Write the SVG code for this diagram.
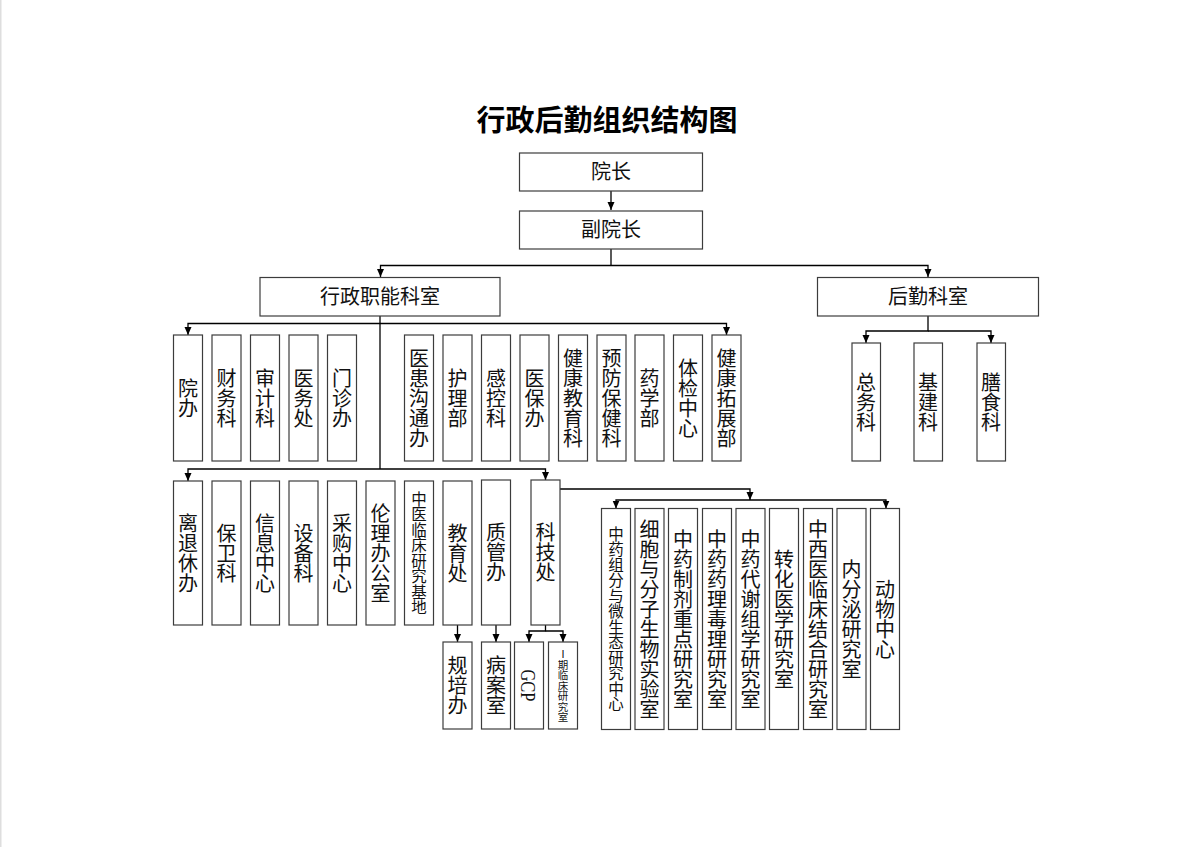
<svg xmlns="http://www.w3.org/2000/svg" width="1200" height="847" viewBox="0 0 1200 847">
<style>
.bg{fill:#fff}
.box{fill:#fff;stroke:#3c3c3c;stroke-width:1.2}
.ln{fill:none;stroke:#000;stroke-width:1.3}
.t{font-family:"Noto Sans CJK SC",sans-serif;font-size:20px;fill:#111}
.h{text-anchor:middle}
.v{writing-mode:vertical-rl;text-anchor:middle}
.s{font-size:15.5px}
.xs{font-size:10.5px}
.title{font-family:"Noto Sans CJK SC",sans-serif;font-size:29px;font-weight:bold;text-anchor:middle;fill:#000}
.lat{font-family:"Liberation Serif",serif;font-size:22px;text-anchor:middle;fill:#111}
</style>
<defs>
<marker id="arr" markerWidth="8" markerHeight="8" refX="8" refY="3.5" orient="auto" markerUnits="userSpaceOnUse"><path d="M0,0 L8,3.5 L0,7 z" fill="#000"/></marker>
</defs>
<rect class="bg" x="0" y="0" width="1200" height="847"/>
<line x1="0.75" y1="0" x2="0.75" y2="847" stroke="#dedede" stroke-width="1.5"/>
<text class="title" x="607" y="131">行政后勤组织结构图</text>

<g id="connectors">
<path class="ln" d="M611,191 V210" marker-end="url(#arr)"/>
<path class="ln" d="M611,249 V265.5"/>
<path class="ln" d="M611,265.5 H380.5 V277" marker-end="url(#arr)"/>
<path class="ln" d="M611,265.5 H928 V277" marker-end="url(#arr)"/>
<path class="ln" d="M380,316 V469"/>
<path class="ln" d="M380,323.5 H188 V335" marker-end="url(#arr)"/>
<path class="ln" d="M380,323.5 H726.5 V335" marker-end="url(#arr)"/>
<path class="ln" d="M380,469 H188 V481" marker-end="url(#arr)"/>
<path class="ln" d="M380,469 H545.5 V480" marker-end="url(#arr)"/>
<path class="ln" d="M457.5,625 V642" marker-end="url(#arr)"/>
<path class="ln" d="M496,625 V642" marker-end="url(#arr)"/>
<path class="ln" d="M545.5,625 V631 H529 V642" marker-end="url(#arr)"/>
<path class="ln" d="M545.5,631 H563 V642" marker-end="url(#arr)"/>
<path class="ln" d="M560,489 H750 V500" marker-end="url(#arr)"/>
<path class="ln" d="M750,500 H616 V508.5" marker-end="url(#arr)"/>
<path class="ln" d="M750,500 H886 V508.5" marker-end="url(#arr)"/>
<path class="ln" d="M928,316 V331 H866 V343" marker-end="url(#arr)"/>
<path class="ln" d="M928,331 H991 V343" marker-end="url(#arr)"/>
</g>

<g id="n-yuanzhang"><rect class="box" x="519.5" y="153" width="183" height="38"/><text class="t h" x="611" y="179">院长</text></g>
<g id="n-fuyuanzhang"><rect class="box" x="519.5" y="211" width="183" height="38"/><text class="t h" x="611" y="237">副院长</text></g>
<g id="n-xingzheng"><rect class="box" x="260" y="277.5" width="240" height="38.5"/><text class="t h" x="380" y="304">行政职能科室</text></g>
<g id="n-houqin"><rect class="box" x="817.5" y="277.5" width="221" height="38.5"/><text class="t h" x="928" y="304">后勤科室</text></g>

<g id="n-yuanban"><rect class="box" x="173.5" y="335" width="29" height="126"/><text class="t v" x="188" y="398">院办</text></g>
<g id="n-caiwu"><rect class="box" x="212" y="335" width="29" height="126"/><text class="t v" x="226.5" y="398">财务科</text></g>
<g id="n-shenji"><rect class="box" x="250.5" y="335" width="29" height="126"/><text class="t v" x="265" y="398">审计科</text></g>
<g id="n-yiwu"><rect class="box" x="289" y="335" width="29" height="126"/><text class="t v" x="303.5" y="398">医务处</text></g>
<g id="n-menzhen"><rect class="box" x="327.5" y="335" width="29" height="126"/><text class="t v" x="342" y="398">门诊办</text></g>
<g id="n-yihuan"><rect class="box" x="404.5" y="335" width="29" height="126"/><text class="t v" x="419" y="398">医患沟通办</text></g>
<g id="n-huli"><rect class="box" x="443" y="335" width="29" height="126"/><text class="t v" x="457.5" y="398">护理部</text></g>
<g id="n-gankong"><rect class="box" x="481.5" y="335" width="29" height="126"/><text class="t v" x="496" y="398">感控科</text></g>
<g id="n-yibao"><rect class="box" x="520" y="335" width="29" height="126"/><text class="t v" x="534.5" y="398">医保办</text></g>
<g id="n-jiankangjiaoyu"><rect class="box" x="558.5" y="335" width="29" height="126"/><text class="t v" x="573" y="398">健康教育科</text></g>
<g id="n-yufang"><rect class="box" x="597" y="335" width="29" height="126"/><text class="t v" x="611.5" y="398">预防保健科</text></g>
<g id="n-yaoxue"><rect class="box" x="635" y="335" width="29" height="126"/><text class="t v" x="649.5" y="398">药学部</text></g>
<g id="n-tijian"><rect class="box" x="673.5" y="335" width="29" height="126"/><text class="t v" x="688" y="398">体检中心</text></g>
<g id="n-tuozhan"><rect class="box" x="712" y="335" width="29" height="126"/><text class="t v" x="726.5" y="398">健康拓展部</text></g>

<g id="n-lituixiu"><rect class="box" x="173.5" y="481" width="29" height="144"/><text class="t v" x="188" y="553">离退休办</text></g>
<g id="n-baowei"><rect class="box" x="212" y="481" width="29" height="144"/><text class="t v" x="226.5" y="553">保卫科</text></g>
<g id="n-xinxi"><rect class="box" x="250.5" y="481" width="29" height="144"/><text class="t v" x="265" y="553">信息中心</text></g>
<g id="n-shebei"><rect class="box" x="289" y="481" width="29" height="144"/><text class="t v" x="303.5" y="553">设备科</text></g>
<g id="n-caigou"><rect class="box" x="327.5" y="481" width="29" height="144"/><text class="t v" x="342" y="553">采购中心</text></g>
<g id="n-lunli"><rect class="box" x="366" y="481" width="29" height="144"/><text class="t v" x="380.5" y="553">伦理办公室</text></g>
<g id="n-jidi"><rect class="box" x="404.5" y="481" width="29" height="144"/><text class="t v s" x="419" y="553">中医临床研究基地</text></g>
<g id="n-jiaoyu"><rect class="box" x="443" y="481" width="29" height="144"/><text class="t v" x="457.5" y="553">教育处</text></g>
<g id="n-zhiguan"><rect class="box" x="481.5" y="480" width="29" height="145"/><text class="t v" x="496" y="552">质管办</text></g>
<g id="n-keji"><rect class="box" x="531" y="480" width="29" height="145"/><text class="t v" x="545.5" y="552">科技处</text></g>

<g id="n-guipei"><rect class="box" x="443" y="642" width="29" height="87"/><text class="t v" x="457.5" y="685.5">规培办</text></g>
<g id="n-bingan"><rect class="box" x="481.5" y="642" width="29" height="87"/><text class="t v" x="496" y="685.5">病案室</text></g>
<g id="n-gcp"><rect class="box" x="514.5" y="642" width="29" height="87"/><text class="lat" transform="translate(529,685.5) rotate(90) scale(0.75,1)" x="0" y="7.5">GCP</text></g>
<g id="n-yiqi"><rect class="box" x="548.5" y="642" width="29" height="87"/><text class="t v xs" x="563" y="686">Ⅰ期临床研究室</text></g>

<g id="n-r1"><rect class="box" x="601.5" y="508.5" width="29" height="221"/><text class="t v s" x="616" y="619">中药组分与微生态研究中心</text></g>
<g id="n-r2"><rect class="box" x="635" y="508.5" width="29" height="221"/><text class="t v" x="649.5" y="619">细胞与分子生物实验室</text></g>
<g id="n-r3"><rect class="box" x="668.5" y="508.5" width="29" height="221"/><text class="t v" x="683" y="619">中药制剂重点研究室</text></g>
<g id="n-r4"><rect class="box" x="702.5" y="508.5" width="29" height="221"/><text class="t v" x="717" y="619">中药药理毒理研究室</text></g>
<g id="n-r5"><rect class="box" x="736" y="508.5" width="29" height="221"/><text class="t v" x="750.5" y="619">中药代谢组学研究室</text></g>
<g id="n-r6"><rect class="box" x="769.5" y="508.5" width="29" height="221"/><text class="t v" x="784" y="619">转化医学研究室</text></g>
<g id="n-r7"><rect class="box" x="803.5" y="508.5" width="29" height="221"/><text class="t v" x="818" y="619">中西医临床结合研究室</text></g>
<g id="n-r8"><rect class="box" x="837" y="508.5" width="29" height="221"/><text class="t v" x="851.5" y="619">内分泌研究室</text></g>
<g id="n-r9"><rect class="box" x="870.5" y="508.5" width="29" height="221"/><text class="t v" x="885" y="619">动物中心</text></g>

<g id="n-zongwu"><rect class="box" x="852" y="343" width="28.5" height="118"/><text class="t v" x="866" y="402">总务科</text></g>
<g id="n-jijian"><rect class="box" x="914" y="343" width="28.5" height="118"/><text class="t v" x="928" y="402">基建科</text></g>
<g id="n-shanshi"><rect class="box" x="977" y="343" width="28.5" height="118"/><text class="t v" x="991" y="402">膳食科</text></g>
</svg>
